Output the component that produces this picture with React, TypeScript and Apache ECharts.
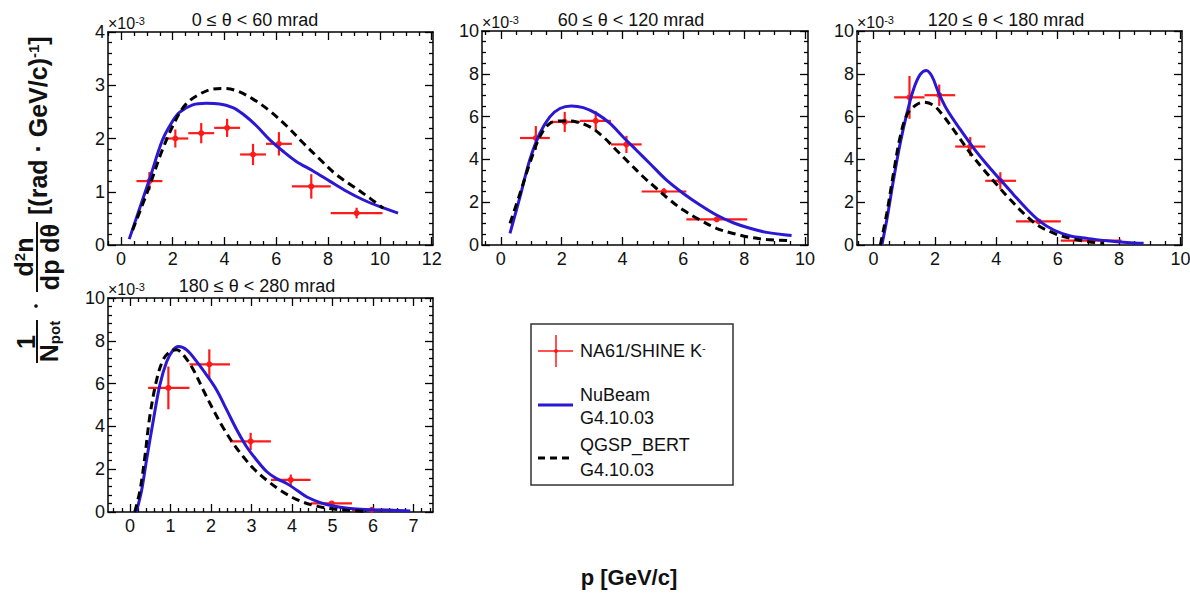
import React, { useEffect, useRef } from "react";
import * as echarts from "echarts";

const FONT = "'Liberation Sans', Arial, Helvetica, sans-serif";
const RED = "#ff1a1a";
const BLUE = "#2a18d4";

// ---------- Panel titles ----------
const titles = ["0 ≤ θ < 60 mrad", "60 ≤ θ < 120 mrad", "120 ≤ θ < 180 mrad", "180 ≤ θ < 280 mrad"];

// ---------- Tick labels ----------
const xTicks1 = [0, 2, 4, 6, 8, 10, 12];
const xTicks2 = [0, 2, 4, 6, 8, 10];
const xTicks3 = [0, 2, 4, 6, 8, 10];
const xTicks4 = [0, 1, 2, 3, 4, 5, 6, 7];

// ---------- NA61/SHINE K- data (values in 1e-3) ----------
// panel 1: 0-60 mrad
const p1 = [1.1, 2.1, 3.1, 4.1, 5.1, 6.1, 7.35, 9.1];
const y1 = [1.2, 2.0, 2.1, 2.2, 1.7, 1.9, 1.1, 0.6];
const lo1 = [0.6, 1.6, 2.6, 3.6, 4.6, 5.6, 6.6, 8.1];
const hi1 = [1.6, 2.6, 3.6, 4.6, 5.6, 6.6, 8.1, 10.1];
const e1 = [0.17, 0.17, 0.19, 0.17, 0.2, 0.22, 0.23, 0.1];
// panel 2: 60-120 mrad
const p2 = [1.15, 2.1, 3.12, 4.13, 5.36, 7.1];
const y2 = [5.0, 5.75, 5.8, 4.7, 2.5, 1.2];
const lo2 = [0.63, 1.61, 2.6, 3.62, 4.63, 6.1];
const hi2 = [1.61, 2.6, 3.62, 4.63, 6.1, 8.1];
const e2 = [0.56, 0.47, 0.45, 0.4, 0.15, 0.08];
// panel 3: 120-180 mrad
const p3 = [1.17, 2.14, 3.15, 4.13, 5.38, 7.1];
const y3 = [6.9, 7.0, 4.6, 3.0, 1.1, 0.2];
const lo3 = [0.67, 1.66, 2.66, 3.64, 4.64, 6.1];
const hi3 = [1.66, 2.66, 3.64, 4.64, 6.1, 8.08];
const e3 = [1.0, 0.5, 0.45, 0.4, 0.1, 0.05];
// panel 4: 180-280 mrad
const p4 = [0.95, 1.96, 2.98, 3.97, 4.98, 5.97];
const y4 = [5.8, 6.9, 3.3, 1.5, 0.4, 0.1];
const lo4 = [0.45, 1.47, 2.47, 3.48, 4.46, 5.48];
const hi4 = [1.47, 2.47, 3.48, 4.46, 5.48, 6.5];
const e4 = [1.0, 0.7, 0.4, 0.25, 0.08, 0.05];

// ---------- NuBeam G4.10.03 ----------
const nubeam1 = [[0.32, 0.11], [1.1, 1.23], [1.61, 1.98], [2.0, 2.33], [2.26, 2.49], [2.77, 2.63], [3.29, 2.66], [3.81, 2.65], [4.32, 2.58], [4.71, 2.46], [5.23, 2.24], [5.74, 1.98], [6.26, 1.76], [6.77, 1.57], [7.42, 1.39], [8.06, 1.2], [8.71, 1.01], [9.35, 0.85], [10.0, 0.72], [10.7, 0.6]];
const nubeam2 = [[0.3, 0.54], [0.63, 2.25], [0.95, 3.97], [1.28, 5.21], [1.61, 5.99], [1.94, 6.38], [2.32, 6.5], [2.71, 6.42], [3.15, 6.14], [3.59, 5.68], [4.02, 5.05], [4.46, 4.43], [4.9, 3.81], [5.45, 3.03], [6.0, 2.41], [6.55, 1.87], [7.09, 1.4], [7.64, 1.04], [8.19, 0.78], [8.74, 0.59], [9.56, 0.44]];
const nubeam3 = [[0.27, 0], [0.43, 1.17], [0.65, 3.05], [0.87, 4.77], [1.09, 6.17], [1.3, 7.27], [1.52, 7.97], [1.72, 8.16], [1.9, 7.89], [2.12, 7.11], [2.39, 6.33], [2.83, 5.39], [3.26, 4.53], [3.7, 3.75], [4.13, 3.05], [4.57, 2.34], [5.0, 1.67], [5.43, 1.09], [5.87, 0.7], [6.41, 0.42], [6.96, 0.31], [7.61, 0.2], [8.26, 0.12], [8.8, 0.08]];
const nubeam4 = [[0.16, 0], [0.29, 1.02], [0.41, 2.42], [0.58, 4.3], [0.74, 5.94], [0.91, 7.03], [1.07, 7.58], [1.2, 7.73], [1.4, 7.58], [1.65, 7.03], [1.89, 6.41], [2.14, 5.7], [2.39, 4.77], [2.64, 3.83], [2.88, 3.05], [3.13, 2.42], [3.38, 1.88], [3.62, 1.56], [3.87, 1.33], [4.12, 1.02], [4.37, 0.7], [4.7, 0.44], [5.02, 0.28], [5.44, 0.16], [5.93, 0.11], [6.43, 0.08], [6.92, 0.05]];

// ---------- QGSP_BERT G4.10.03 ----------
const qgsp1 = [[0.45, 0.28], [1.1, 1.1], [1.61, 1.8], [2.13, 2.36], [2.52, 2.65], [3.03, 2.83], [3.55, 2.93], [3.94, 2.94], [4.45, 2.9], [5.1, 2.74], [5.74, 2.52], [6.39, 2.24], [7.03, 1.92], [7.68, 1.61], [8.32, 1.32], [8.97, 1.1], [9.61, 0.88], [10.13, 0.69]];
const qgsp2 = [[0.3, 1.01], [0.63, 2.41], [0.95, 3.81], [1.28, 5.05], [1.61, 5.68], [2.05, 5.8], [2.49, 5.75], [2.93, 5.52], [3.37, 5.05], [3.8, 4.43], [4.24, 3.81], [4.68, 3.19], [5.12, 2.64], [5.56, 2.1], [6.0, 1.63], [6.55, 1.17], [7.09, 0.78], [7.64, 0.54], [8.19, 0.36], [8.74, 0.26], [9.56, 0.2]];
const qgsp3 = [[0.22, 0], [0.43, 1.48], [0.65, 3.36], [0.87, 5.08], [1.09, 6.09], [1.36, 6.52], [1.63, 6.67], [1.96, 6.52], [2.28, 6.02], [2.72, 5.16], [3.15, 4.3], [3.59, 3.52], [4.02, 2.81], [4.46, 2.11], [4.89, 1.48], [5.33, 0.94], [5.87, 0.55], [6.41, 0.31], [6.96, 0.16], [7.5, 0.08]];
const qgsp4 = [[0.12, 0], [0.25, 1.02], [0.37, 2.58], [0.49, 4.45], [0.66, 6.17], [0.82, 7.11], [0.99, 7.5], [1.15, 7.58], [1.32, 7.34], [1.57, 6.64], [1.81, 5.7], [2.06, 4.77], [2.31, 3.91], [2.55, 3.2], [2.8, 2.58], [3.05, 2.03], [3.38, 1.48], [3.71, 1.02], [4.12, 0.58], [4.53, 0.31], [4.94, 0.16], [5.35, 0.08], [5.85, 0.03]];

// ---------- layout ----------
const panels = [
  { left: 108, top: 32, width: 325, height: 213, xMin: -0.5, xMax: 12.05, xTicks: xTicks1, xMinorStep: 0.5, yMax: 4, yInt: 1, ySplit: 5, data: [p1, y1, lo1, hi1, e1], nb: nubeam1, qg: qgsp1, titleX: 255, titleY: 20 },
  { left: 482, top: 31, width: 326, height: 214, xMin: -0.62, xMax: 10.1, xTicks: xTicks2, xMinorStep: 0.5, yMax: 10, yInt: 2, ySplit: 4, data: [p2, y2, lo2, hi2, e2], nb: nubeam2, qg: qgsp2, titleX: 631, titleY: 20 },
  { left: 857, top: 31, width: 325, height: 214, xMin: -0.54, xMax: 10.05, xTicks: xTicks3, xMinorStep: 0.5, yMax: 10, yInt: 2, ySplit: 4, data: [p3, y3, lo3, hi3, e3], nb: nubeam3, qg: qgsp3, titleX: 1006, titleY: 20 },
  { left: 108, top: 298, width: 325, height: 214, xMin: -0.54, xMax: 7.48, xTicks: xTicks4, xMinorStep: 0.2, yMax: 10, yInt: 2, ySplit: 5, data: [p4, y4, lo4, hi4, e4], nb: nubeam4, qg: qgsp4, titleX: 257, titleY: 286 },
];

function minorValues(min: number, max: number, step: number, majors: number[]) {
  const out: number[] = [];
  const start = Math.ceil(min / step - 1e-9);
  const end = Math.floor(max / step + 1e-9);
  for (let i = start; i <= end; i++) {
    const v = Math.round(i * step * 1000) / 1000;
    if (!majors.some((m) => Math.abs(m - v) < 1e-6)) out.push(v);
  }
  return out;
}

const AX = { color: "#000", width: 1.5 };
const TK = { color: "#000", width: 1.3 };

function buildOption() {
  const grid: any[] = [];
  const xAxis: any[] = [];
  const yAxis: any[] = [];
  const series: any[] = [];
  const graphic: any[] = [];

  panels.forEach((p, g) => {
    grid.push({ left: p.left, top: p.top, width: p.width, height: p.height, containLabel: false, outerBoundsMode: "none" });
    const minors = minorValues(p.xMin, p.xMax, p.xMinorStep, p.xTicks);
    const base = { type: "value", gridIndex: g, min: p.xMin, max: p.xMax, splitLine: { show: false } };
    ["bottom", "top"].forEach((pos) => {
      xAxis.push({
        ...base,
        position: pos,
        axisLine: { show: true, onZero: false, lineStyle: AX },
        axisTick: { show: true, inside: true, length: 8, customValues: p.xTicks, lineStyle: TK },
        axisLabel: pos === "bottom"
          ? { show: true, customValues: p.xTicks, fontSize: 18, color: "#111", fontFamily: FONT, margin: 5 }
          : { show: false },
      });
      xAxis.push({
        ...base,
        position: pos,
        axisLine: { show: false, onZero: false },
        axisTick: { show: true, inside: true, length: 4, customValues: minors, lineStyle: TK },
        axisLabel: { show: false },
      });
    });
    ["left", "right"].forEach((pos) => {
      yAxis.push({
        type: "value",
        gridIndex: g,
        position: pos,
        min: 0,
        max: p.yMax,
        interval: p.yInt,
        splitLine: { show: false },
        axisLine: { show: true, onZero: false, lineStyle: AX },
        axisTick: { show: true, inside: true, length: 8, lineStyle: TK },
        minorTick: { show: true, splitNumber: p.ySplit, length: 4, lineStyle: TK },
        minorSplitLine: { show: false },
        axisLabel: pos === "left"
          ? { show: true, fontSize: 18, color: "#111", fontFamily: FONT, margin: 3 }
          : { show: false },
      });
    });

    const [px, py, plo, phi, pe] = p.data;
    const rows = px.map((x, i) => [x, py[i], plo[i], phi[i], pe[i]]);
    const xi = g * 4;
    const yi = g * 2;
    series.push({
      type: "custom",
      xAxisIndex: xi,
      yAxisIndex: yi,
      data: rows,
      encode: { x: 0, y: 1 },
      z: 3,
      renderItem: (_params: any, api: any) => {
        const x = api.value(0), y = api.value(1), lo = api.value(2), hi = api.value(3), e = api.value(4);
        const c = api.coord([x, y]);
        const l = api.coord([lo, y]);
        const h = api.coord([hi, y]);
        const t = api.coord([x, y + e]);
        const b = api.coord([x, y - e]);
        return {
          type: "group",
          children: [
            { type: "line", shape: { x1: l[0], y1: l[1], x2: h[0], y2: h[1] }, style: { stroke: RED, lineWidth: 2.2 } },
            { type: "line", shape: { x1: t[0], y1: t[1], x2: b[0], y2: b[1] }, style: { stroke: RED, lineWidth: 2.2 } },
            { type: "circle", shape: { cx: c[0], cy: c[1], r: 3 }, style: { fill: RED } },
          ],
        };
      },
    });
    series.push({
      type: "line",
      name: "NuBeam",
      xAxisIndex: xi,
      yAxisIndex: yi,
      data: p.nb,
      smooth: 0.35,
      showSymbol: false,
      symbol: "none",
      z: 4,
      lineStyle: { color: BLUE, width: 3 },
    });
    series.push({
      type: "line",
      name: "QGSP_BERT",
      xAxisIndex: xi,
      yAxisIndex: yi,
      data: p.qg,
      smooth: 0.35,
      showSymbol: false,
      symbol: "none",
      z: 5,
      lineStyle: { color: "#000", width: 3, type: [8, 5] },
    });

    // title
    graphic.push({
      type: "text",
      x: p.titleX,
      y: p.titleY,
      style: { text: titles[g], font: `18px ${FONT}`, fill: "#111", align: "center", verticalAlign: "middle" },
    });
    // x10^-3
    graphic.push({
      type: "text",
      x: p.left,
      y: p.top - 1,
      style: {
        text: "{a|×10}{b|-3}",
        align: "left",
        verticalAlign: "bottom",
        rich: {
          a: { fontSize: 16, fontFamily: FONT, fill: "#111", verticalAlign: "bottom" },
          b: { fontSize: 11, fontFamily: FONT, fill: "#111", verticalAlign: "top" },
        },
      },
    });
  });

  // legend box
  const lx = 531, ly = 324;
  graphic.push({ type: "rect", shape: { x: lx, y: ly, width: 202, height: 161 }, style: { fill: "#fff", stroke: "#333", lineWidth: 1.5 } });
  graphic.push({ type: "line", shape: { x1: 538, y1: 351, x2: 573, y2: 351 }, style: { stroke: RED, lineWidth: 1.5 } });
  graphic.push({ type: "line", shape: { x1: 556, y1: 335, x2: 556, y2: 367 }, style: { stroke: RED, lineWidth: 1.5 } });
  graphic.push({ type: "circle", shape: { cx: 556, cy: 351, r: 2 }, style: { fill: RED } });
  graphic.push({
    type: "text", x: 580, y: 351,
    style: {
      text: "{a|NA61/SHINE K}{b|-}",
      verticalAlign: "middle",
      rich: {
        a: { fontSize: 18, fontFamily: FONT, fill: "#111" },
        b: { fontSize: 11, fontFamily: FONT, fill: "#111", verticalAlign: "top" },
      },
    },
  });
  graphic.push({ type: "line", shape: { x1: 538, y1: 405, x2: 573, y2: 405 }, style: { stroke: BLUE, lineWidth: 3 } });
  graphic.push({ type: "text", x: 580, y: 395, style: { text: "NuBeam", font: `18px ${FONT}`, fill: "#111", verticalAlign: "middle" } });
  graphic.push({ type: "text", x: 580, y: 418, style: { text: "G4.10.03", font: `18px ${FONT}`, fill: "#111", verticalAlign: "middle" } });
  graphic.push({ type: "line", shape: { x1: 538, y1: 458, x2: 573, y2: 458 }, style: { stroke: "#000", lineWidth: 3, lineDash: [7, 5] } });
  graphic.push({ type: "text", x: 580, y: 445, style: { text: "QGSP_BERT", font: `18px ${FONT}`, fill: "#111", verticalAlign: "middle" } });
  graphic.push({ type: "text", x: 580, y: 470, style: { text: "G4.10.03", font: `18px ${FONT}`, fill: "#111", verticalAlign: "middle" } });

  // x axis title
  graphic.push({ type: "text", x: 629, y: 577, style: { text: "p [GeV/c]", font: `bold 22px ${FONT}`, fill: "#111", align: "center", verticalAlign: "middle" } });

  // y axis title (rotated)
  const bf = `bold 25px ${FONT}`;
  graphic.push({
    type: "group",
    x: 37,
    y: 363,
    rotation: Math.PI / 2,
    children: [
      { type: "line", shape: { x1: 0, y1: 0, x2: 43, y2: 0 }, style: { stroke: "#111", lineWidth: 2 } },
      { type: "text", x: 21, y: -11, style: { text: "1", font: bf, fill: "#111", align: "center", verticalAlign: "middle" } },
      {
        type: "text", x: 21.5, y: 12,
        style: {
          text: "{n|N}{s|pot}", align: "center", verticalAlign: "middle",
          rich: {
            n: { font: bf, fill: "#111" },
            s: { font: `bold 15px ${FONT}`, fill: "#111", verticalAlign: "bottom" },
          },
        },
      },
      { type: "circle", shape: { cx: 57, cy: -1, r: 1.8 }, style: { fill: "#111" } },
      { type: "line", shape: { x1: 71, y1: 0, x2: 141, y2: 0 }, style: { stroke: "#111", lineWidth: 2 } },
      {
        type: "text", x: 106, y: -13,
        style: {
          text: "{a|d}{b|2}{a|n}", align: "center", verticalAlign: "middle",
          rich: {
            a: { font: bf, fill: "#111" },
            b: { font: `bold 15px ${FONT}`, fill: "#111", verticalAlign: "top" },
          },
        },
      },
      { type: "text", x: 106, y: 13, style: { text: "dp dθ", font: bf, fill: "#111", align: "center", verticalAlign: "middle" } },
      {
        type: "text", x: 148, y: 1,
        style: {
          text: "{a|[(rad · GeV/c)}{b|-1}{a|]}", align: "left", verticalAlign: "middle",
          rich: {
            a: { font: bf, fill: "#111" },
            b: { font: `bold 15px ${FONT}`, fill: "#111", verticalAlign: "top" },
          },
        },
      },
    ],
  });

  return {
    animation: false,
    backgroundColor: "#fff",
    grid,
    xAxis,
    yAxis,
    series,
    graphic,
  };
}

export default function App() {
  const ref = useRef<HTMLDivElement>(null);
  useEffect(() => {
    if (!ref.current) return;
    const chart = echarts.init(ref.current, null, { renderer: "svg" });
    chart.setOption(buildOption() as any);
    return () => chart.dispose();
  }, []);
  return <div ref={ref} style={{ position: "absolute", left: 0, top: 0, width: 1190, height: 593 }} />;
}
